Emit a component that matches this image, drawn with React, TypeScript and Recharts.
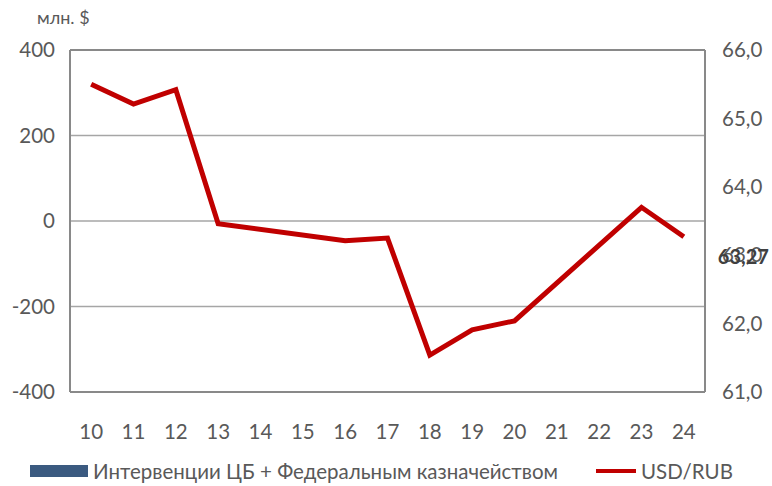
import {
  Bar,
  CartesianGrid,
  ComposedChart,
  LabelList,
  Legend,
  Line,
  ReferenceLine,
  XAxis,
  YAxis,
} from "recharts";

const days = ["10", "11", "12", "13", "14", "15", "16", "17", "18", "19", "20", "21", "22", "23", "24"];
const interventions = [0, 0, 0, 0, null, null, 0, 0, 0, 0, 0, null, null, 0, 0];
const usdRub = [65.5, 65.21, 65.42, 63.46, null, null, 63.21, 63.25, 61.54, 61.91, 62.04, null, null, 63.7, 63.27];
const leftTicks = [-400, -200, 0, 200, 400];
const rightTicks = [61, 62, 63, 64, 65, 66];

const data = days.map((day, i) => ({
  day,
  interventions: interventions[i],
  usdRub: usdRub[i],
}));

const font = "Lato, 'Open Sans', sans-serif";
const tickStyle = { fill: "#595959", fontSize: 20.5, fontFamily: font };

const LastLabel = (props: any) => {
  const { x, y, index, value } = props;
  if (index !== data.length - 1) return null;
  return (
    <text
      x={x + 34}
      y={y + 27}
      fill="#404040"
      fontSize={20}
      fontWeight="bold"
      fontFamily={font}
    >
      {Number(value).toFixed(2).replace(".", ",")}
    </text>
  );
};

const LegendContent = () => (
  <div
    style={{
      display: "flex",
      alignItems: "center",
      fontFamily: font,
      fontSize: 20.5,
      color: "#595959",
      height: 38,
      paddingTop: 8,
      boxSizing: "border-box",
    }}
  >
    <span style={{ display: "inline-block", width: 58, height: 12, background: "#3B5A80", marginLeft: 30, marginRight: 5 }} />
    <span>Интервенции ЦБ + Федеральным казначейством</span>
    <span style={{ display: "inline-block", width: 40, height: 4, background: "#C00000", marginLeft: 38, marginRight: 5 }} />
    <span>USD/RUB</span>
  </div>
);

export default function App() {
  return (
    <div style={{ position: "absolute", left: 0, top: 0, background: "#fff" }}>
      <div
        style={{
          position: "absolute",
          left: 37,
          top: 6,
          fontFamily: font,
          fontSize: 18,
          color: "#595959",
        }}
      >
        млн. $
      </div>
      <ComposedChart
        width={772}
        height={486}
        data={data}
        margin={{ top: 50, right: 0, bottom: 0, left: 0 }}
      >
        <CartesianGrid vertical={false} stroke="#a6a6a6" strokeWidth={1.5} yAxisId="left" />
        <XAxis
          dataKey="day"
          tick={tickStyle}
          tickLine={false}
          axisLine={{ stroke: "#898989", strokeWidth: 2 }}
          tickSize={0}
          tickMargin={32}
          height={56}
          interval={0}
        />
        <YAxis
          yAxisId="left"
          domain={[-400, 400]}
          ticks={leftTicks}
          tick={tickStyle}
          tickLine={false}
          axisLine={{ stroke: "#898989", strokeWidth: 2 }}
          tickSize={0}
          tickMargin={15}
          width={70}
        />
        <YAxis
          yAxisId="right"
          orientation="right"
          domain={[61, 66]}
          ticks={rightTicks}
          tick={tickStyle}
          tickFormatter={(v) => Number(v).toFixed(1).replace(".", ",")}
          tickLine={false}
          axisLine={{ stroke: "#898989", strokeWidth: 2 }}
          tickSize={0}
          tickMargin={17}
          width={67}
        />
        <ReferenceLine yAxisId="left" y={400} stroke="#898989" strokeWidth={2} />
        <Legend verticalAlign="bottom" height={38} content={<LegendContent />} />
        <Bar
          yAxisId="left"
          dataKey="interventions"
          fill="#3B5A80"
          isAnimationActive={false}
        />
        <Line
          yAxisId="right"
          dataKey="usdRub"
          stroke="#C00000"
          strokeWidth={5}
          dot={false}
          connectNulls
          isAnimationActive={false}
        >
          <LabelList dataKey="usdRub" content={<LastLabel />} />
        </Line>
      </ComposedChart>
    </div>
  );
}
